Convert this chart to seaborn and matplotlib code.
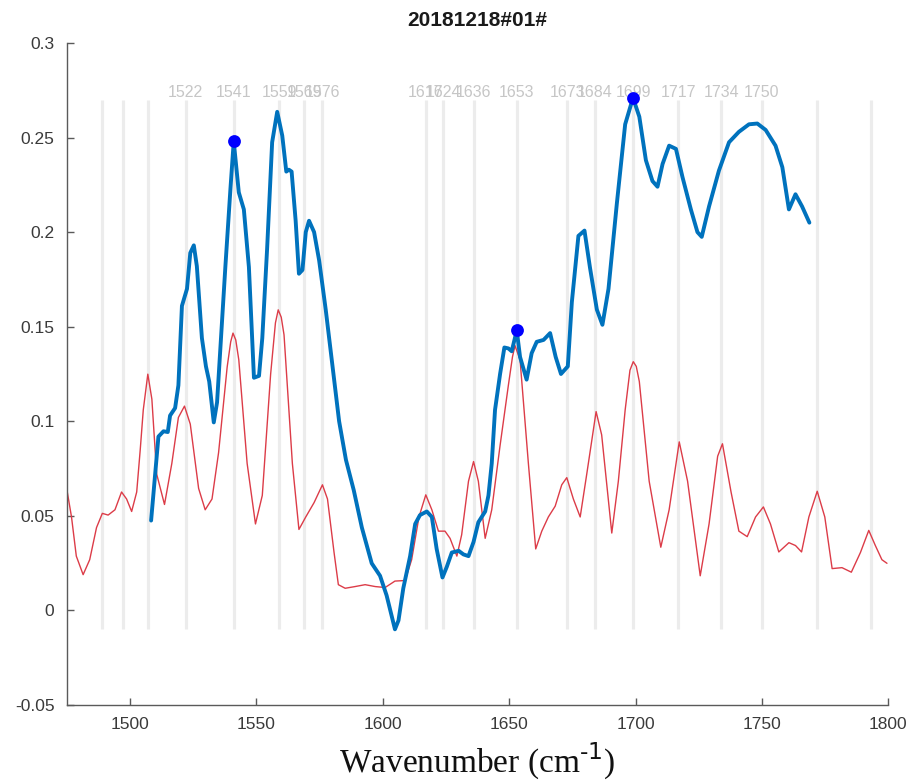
import matplotlib
matplotlib.use("Agg")
import matplotlib.pyplot as plt
import seaborn as sns
import pandas as pd

# Measured absorbance spectrum (blue, thick)
spec_wn = [1508.3, 1511.2, 1513.2, 1514.9, 1515.8, 1517.8, 1519.1, 1520.5, 1522.5, 1523.8,
           1525.2, 1526.4, 1528.4, 1530.0, 1531.3, 1533.1, 1534.4, 1537.7, 1539.7, 1541.0,
           1543.0, 1545.0, 1547.0, 1549.0, 1551.0, 1552.3, 1554.2, 1556.2, 1558.2, 1560.2,
           1561.8, 1562.8, 1563.9, 1565.5, 1566.8, 1568.2, 1569.5, 1570.8, 1572.8, 1574.8,
           1577.4, 1580.1, 1582.7, 1585.4, 1588.5, 1591.7, 1595.6, 1598.9, 1601.5, 1604.8, 1606.2,
           1608.1, 1610.8, 1612.8, 1614.7, 1617.4, 1619.4, 1621.3, 1623.6, 1625.3, 1627.3,
           1630.0, 1631.9, 1633.9, 1635.9, 1637.8, 1640.5, 1641.8, 1643.1, 1644.4, 1646.4,
           1648.1, 1649.7, 1651.0, 1653.0, 1654.3, 1656.9, 1658.9, 1660.9, 1663.6, 1666.2,
           1668.4, 1670.5, 1673.2, 1674.8, 1677.4, 1679.8, 1682.0, 1684.7, 1686.9, 1689.3,
           1692.6, 1695.9, 1699.0, 1701.5, 1704.1, 1706.7, 1708.7, 1710.7, 1713.3, 1716.0,
           1718.6, 1721.9, 1724.5, 1726.2, 1729.1, 1733.0, 1737.0, 1740.9, 1744.9, 1748.2,
           1751.5, 1755.4, 1758.1, 1760.7, 1763.3, 1765.9, 1768.8]
spec_abs = [0.0475, 0.0919, 0.0947, 0.0943, 0.1030, 0.1070, 0.1190, 0.1610, 0.1700, 0.1890,
            0.1930, 0.1820, 0.1440, 0.1290, 0.1210, 0.0994, 0.1100, 0.1820, 0.2230, 0.2480,
            0.2210, 0.2120, 0.1815, 0.1230, 0.1240, 0.1440, 0.1910, 0.2475, 0.2636, 0.2510,
            0.2320, 0.2330, 0.2320, 0.2060, 0.1780, 0.1800, 0.2000, 0.2060, 0.2000, 0.1850,
            0.1590, 0.1290, 0.1000, 0.0796, 0.0635, 0.0438, 0.0249, 0.0183, 0.0079, -0.0100, -0.0053,
            0.0117, 0.0287, 0.0457, 0.0504, 0.0523, 0.0494, 0.0325, 0.0174, 0.0230, 0.0306,
            0.0315, 0.0296, 0.0287, 0.0362, 0.0466, 0.0523, 0.0608, 0.0777, 0.1060, 0.1250,
            0.1390, 0.1385, 0.1370, 0.1480, 0.1340, 0.1220, 0.1360, 0.1420, 0.1430, 0.1466,
            0.1340, 0.1250, 0.1290, 0.1630, 0.1980, 0.2008, 0.1810, 0.1590, 0.1510, 0.1700,
            0.2150, 0.2570, 0.2710, 0.2610, 0.2380, 0.2270, 0.2240, 0.2360, 0.2457, 0.2440,
            0.2290, 0.2120, 0.2000, 0.1975, 0.2136, 0.2325, 0.2475, 0.2530, 0.2570, 0.2574,
            0.2540, 0.2457, 0.2343, 0.2120, 0.2200, 0.2136, 0.2050]

# Second-derivative style reference curve (red, thin)
ref_wn = [1475.0, 1476.8, 1478.7, 1481.4, 1484.0, 1486.7, 1489.0, 1491.3, 1494.0, 1496.6,
          1498.6, 1500.6, 1502.6, 1504.0, 1505.2, 1507.0, 1508.6, 1510.5, 1513.6, 1516.5, 1519.1,
          1521.5, 1523.8, 1527.1, 1529.7, 1532.4, 1535.0, 1538.4, 1539.8, 1540.7, 1541.8, 1543.0, 1546.3,
          1549.6, 1552.3, 1555.6, 1557.5, 1558.6, 1559.8, 1560.9, 1564.2, 1566.8, 1569.5, 1572.8, 1576.1,
          1578.1, 1580.7, 1582.4, 1585.1, 1589.0, 1593.0, 1597.0, 1600.9, 1604.8, 1608.8,
          1611.4, 1614.3, 1617.0, 1619.4, 1622.0, 1624.6, 1626.6, 1629.3, 1631.2, 1633.9,
          1635.9, 1637.8, 1640.5, 1643.1, 1646.4, 1649.7, 1651.3, 1652.3, 1654.3, 1657.6, 1660.5,
          1662.9, 1665.5, 1668.2, 1670.8, 1672.8, 1675.4, 1678.1, 1680.7, 1684.4, 1686.6,
          1690.6, 1693.2, 1695.9, 1697.8, 1699.1, 1700.3, 1701.5, 1705.4, 1710.0, 1713.3, 1717.3, 1720.6,
          1725.6, 1729.1, 1732.5, 1734.4, 1737.8, 1740.9, 1744.2, 1747.5, 1750.6, 1753.4,
          1756.7, 1760.7, 1763.3, 1765.7, 1768.6, 1771.9, 1774.9, 1777.8, 1781.7, 1785.4,
          1789.0, 1792.3, 1794.9, 1797.5, 1799.5]
ref_abs = [0.0636, 0.0494, 0.0287, 0.0189, 0.0268, 0.0438, 0.0513, 0.0504, 0.0532, 0.0626,
           0.0589, 0.0523, 0.0626, 0.0850, 0.1060, 0.1249, 0.1117, 0.0721, 0.0560, 0.0777, 0.1020,
           0.1080, 0.0985, 0.0645, 0.0532, 0.0589, 0.0834, 0.1287, 0.1420, 0.1466, 0.1430, 0.1325, 0.0777,
           0.0457, 0.0608, 0.1249, 0.1520, 0.1589, 0.1550, 0.1457, 0.0777, 0.0428, 0.0494, 0.0570, 0.0664,
           0.0589, 0.0306, 0.0136, 0.0117, 0.0126, 0.0136, 0.0126, 0.0121, 0.0155, 0.0158,
           0.0268, 0.0494, 0.0611, 0.0532, 0.0419, 0.0419, 0.0381, 0.0287, 0.0400, 0.0683,
           0.0787, 0.0683, 0.0381, 0.0532, 0.0872, 0.1192, 0.1340, 0.1400, 0.1325, 0.0777, 0.0325,
           0.0419, 0.0494, 0.0551, 0.0664, 0.0702, 0.0589, 0.0494, 0.0721, 0.1051, 0.0928,
           0.0409, 0.0683, 0.1060, 0.1270, 0.1315, 0.1290, 0.1210, 0.0683, 0.0334, 0.0532, 0.0891, 0.0683,
           0.0183, 0.0457, 0.0815, 0.0881, 0.0626, 0.0419, 0.0390, 0.0494, 0.0547, 0.0457,
           0.0309, 0.0358, 0.0343, 0.0309, 0.0494, 0.0630, 0.0494, 0.0221, 0.0226, 0.0202,
           0.0306, 0.0423, 0.0343, 0.0268, 0.0249]

# Picked peaks of the measured spectrum
peak_wn = [1541, 1653, 1699]
peak_abs = [0.248, 0.148, 0.271]

# Band positions marked by vertical guides (empty label = unlabelled guide)
band_wn = [1489, 1497, 1507, 1522, 1541, 1559, 1569, 1576, 1617, 1624, 1636, 1653,
           1673, 1684, 1699, 1717, 1734, 1750, 1772, 1793]
band_labels = ["", "", "", "1522", "1541", "1559", "1569", "1576", "1617", "1624", "1636",
               "1653", "1673", "1684", "1699", "1717", "1734", "1750", "", ""]

x_ticks = [1500, 1550, 1600, 1650, 1700, 1750, 1800]
y_ticks = [-0.05, 0, 0.05, 0.1, 0.15, 0.2, 0.25, 0.3]
y_ticklabels = ["-0.05", "0", "0.05", "0.1", "0.15", "0.2", "0.25", "0.3"]

sns.set_theme(style="white")
plt.rcParams["font.family"] = ["Liberation Sans", "DejaVu Sans"]

fig = plt.figure(figsize=(9.11, 7.84), dpi=100)
ax = fig.add_axes([0.0735, 0.1008, 0.9015, 0.8444])

# vertical band guides with their labels
for wn, lab in zip(band_wn, band_labels):
    ax.vlines(wn, -0.01, 0.27, color="#ececec", linewidth=2.3, zorder=0)
    if lab:
        ax.text(wn, 0.2737, lab, ha="center", va="center", fontsize=11.5,
                color="#c6c6c6", zorder=1)

ref_df = pd.DataFrame({"wn": ref_wn, "abs": ref_abs})
spec_df = pd.DataFrame({"wn": spec_wn, "abs": spec_abs})
peak_df = pd.DataFrame({"wn": peak_wn, "abs": peak_abs})

sns.lineplot(data=ref_df, x="wn", y="abs", sort=False, estimator=None, ax=ax,
             color="#dc3c48", linewidth=1.0, zorder=2)
sns.lineplot(data=spec_df, x="wn", y="abs", sort=False, estimator=None, ax=ax,
             color="#0072bd", linewidth=2.8, zorder=3)
sns.scatterplot(data=peak_df, x="wn", y="abs", ax=ax, color="#0000ff", s=85,
                edgecolor="#0000ff", linewidth=0, zorder=4)

ax.set_xlim(1475, 1800)
ax.set_ylim(-0.05, 0.3)
ax.set_xticks(x_ticks)
ax.set_yticks(y_ticks)
ax.set_yticklabels(y_ticklabels)

for side in ("top", "right"):
    ax.spines[side].set_visible(False)
for side in ("left", "bottom"):
    ax.spines[side].set_color("#5a5a5a")
    ax.spines[side].set_linewidth(1.0)

ax.tick_params(axis="both", direction="in", length=5, width=1.0, color="#5a5a5a",
               labelsize=12.5, labelcolor="#3a3a3a", pad=9)
ax.tick_params(axis="y", left=True)
ax.tick_params(axis="x", bottom=True)

ax.set_title("20181218#01#", fontsize=15, fontweight="bold", color="#1a1a1a", pad=12)
ax.set_xlabel("Wavenumber (cm$^{\\text{-1}}$)", fontsize=24,
              family=["Liberation Serif", "DejaVu Serif"], color="#111111", labelpad=6)
ax.set_ylabel("")

fig.savefig("out.png", dpi=100, facecolor="white")
